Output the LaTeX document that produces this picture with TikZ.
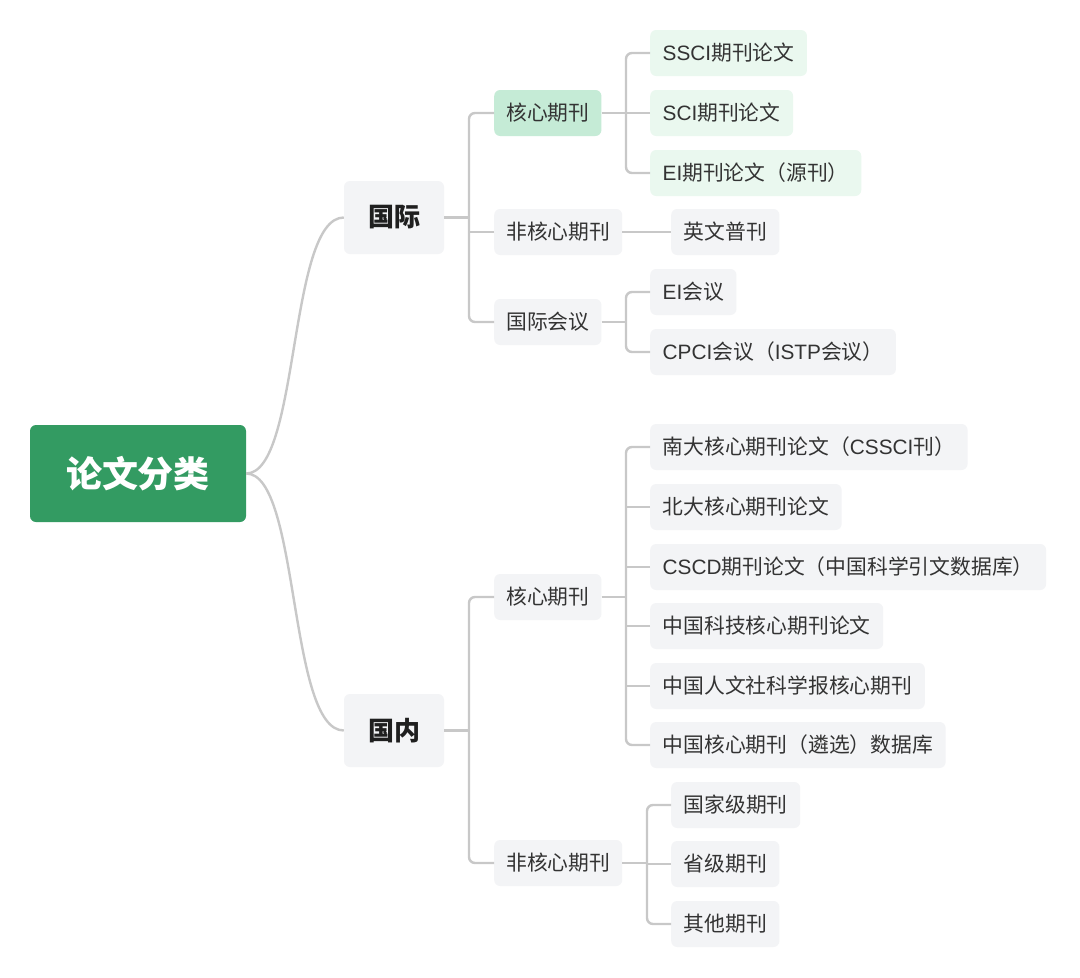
\documentclass[tikz,border=0pt]{standalone}
\usepackage{fontspec}
\setmainfont{Noto Sans CJK SC}
\newfontfamily\lat{Liberation Sans}
\definecolor{rootgreen}{HTML}{339B62}
\definecolor{coregreen}{HTML}{C5EBD6}
\definecolor{leafgreen}{HTML}{EAF8EF}
\definecolor{boxgray}{HTML}{F3F4F6}
\definecolor{linegray}{HTML}{C8C8C8}
\definecolor{txt}{HTML}{333333}
\begin{document}
\begin{tikzpicture}[x=1pt,y=-1pt,
  every node/.style={font=\fontsize{20.8}{24}\selectfont, text=txt},
  rootbox/.style={fill=rootgreen, rounded corners=6pt, minimum width=216pt, minimum height=97pt, text=white, font=\fontsize{36}{42}\selectfont\bfseries},
  mainbox/.style={fill=boxgray, rounded corners=6pt, minimum width=100pt, minimum height=73pt, font=\fontsize{26}{30}\selectfont\bfseries, text=black!88},
  subbox/.style={fill=boxgray, rounded corners=6pt, minimum height=46pt, inner xsep=12pt, anchor=west},
  corebox/.style={subbox, fill=coregreen},
  leafbox/.style={fill=boxgray, rounded corners=6pt, minimum height=46pt, inner xsep=12.5pt, anchor=west},
  greenleaf/.style={leafbox, fill=leafgreen},
  conn/.style={draw=linegray, line width=2.4pt, rounded corners=6pt}
]
\fill[white] (0,0) rectangle (1080,978);

\node[rootbox] (root) at (138,473.5) {论文分类};
\node[mainbox] (intl) at (394,217.5) {国际};
\node[mainbox] (dom) at (394,730.5) {国内};

% international level 2
\node[corebox] (icore) at (494,113) {核心期刊};
\node[subbox] (inon) at (494,232) {非核心期刊};
\node[subbox] (iconf) at (494,322) {国际会议};

% international leaves
\node[greenleaf] (ssci) at (650,53) {{\lat SSCI}期刊论文};
\node[greenleaf] (sci) at (650,113) {{\lat SCI}期刊论文};
\node[greenleaf] (ei) at (650,173) {{\lat EI}期刊论文（源刊）};
\node[leafbox] (ywpk) at (671,232) {英文普刊};
\node[leafbox] (eiconf) at (650,292) {{\lat EI}会议};
\node[leafbox] (cpci) at (650,352) {{\lat CPCI}会议（{\lat ISTP}会议）};

% domestic level 2
\node[subbox] (dcore) at (494,597) {核心期刊};
\node[subbox] (dnon) at (494,863) {非核心期刊};

% domestic leaves
\node[leafbox] (nd) at (650,447) {南大核心期刊论文（{\lat CSSCI}刊）};
\node[leafbox] (bd) at (650,507) {北大核心期刊论文};
\node[leafbox] (cscd) at (650,567) {{\lat CSCD}期刊论文（中国科学引文数据库）};
\node[leafbox] (kj) at (650,626) {中国科技核心期刊论文};
\node[leafbox] (rw) at (650,686) {中国人文社科学报核心期刊};
\node[leafbox] (lx) at (650,745) {中国核心期刊（遴选）数据库};
\node[leafbox] (gj) at (671,805) {国家级期刊};
\node[leafbox] (sj) at (671,864) {省级期刊};
\node[leafbox] (qt) at (671,924) {其他期刊};

% trunk positions
\coordinate (tA) at (469,0);
\coordinate (tB) at (626,0);
\coordinate (tF) at (647,0);

% root curves
\draw[conn] (root.east) .. controls (300,473.5) and (288,217.5) .. (intl.west);
\draw[conn] (root.east) .. controls (300,473.5) and (288,730.5) .. (dom.west);

% international branches
\draw[conn] (intl.east) -- (intl.east -| tA);
\draw[conn] (icore.west) -- (icore.west -| tA) -- (iconf.west -| tA) -- (iconf.west);
\draw[conn] (inon.west) -- (inon.west -| tA);

\draw[conn] (icore.east) -- (icore.east -| tB);
\draw[conn] (ssci.west) -- (ssci.west -| tB) -- (ei.west -| tB) -- (ei.west);
\draw[conn] (sci.west) -- (sci.west -| tB);

\draw[conn] (inon.east) -- (ywpk.west);

\draw[conn] (iconf.east) -- (iconf.east -| tB);
\draw[conn] (eiconf.west) -- (eiconf.west -| tB) -- (cpci.west -| tB) -- (cpci.west);

% domestic branches
\draw[conn] (dom.east) -- (dom.east -| tA);
\draw[conn] (dcore.west) -- (dcore.west -| tA) -- (dnon.west -| tA) -- (dnon.west);

\draw[conn] (dcore.east) -- (dcore.east -| tB);
\draw[conn] (nd.west) -- (nd.west -| tB) -- (lx.west -| tB) -- (lx.west);
\foreach \c in {bd,cscd,kj,rw}
  \draw[conn] (\c.west) -- (\c.west -| tB);

\draw[conn] (dnon.east) -- (dnon.east -| tF);
\draw[conn] (gj.west) -- (gj.west -| tF) -- (qt.west -| tF) -- (qt.west);
\draw[conn] (sj.west) -- (sj.west -| tF);

\end{tikzpicture}
\end{document}
